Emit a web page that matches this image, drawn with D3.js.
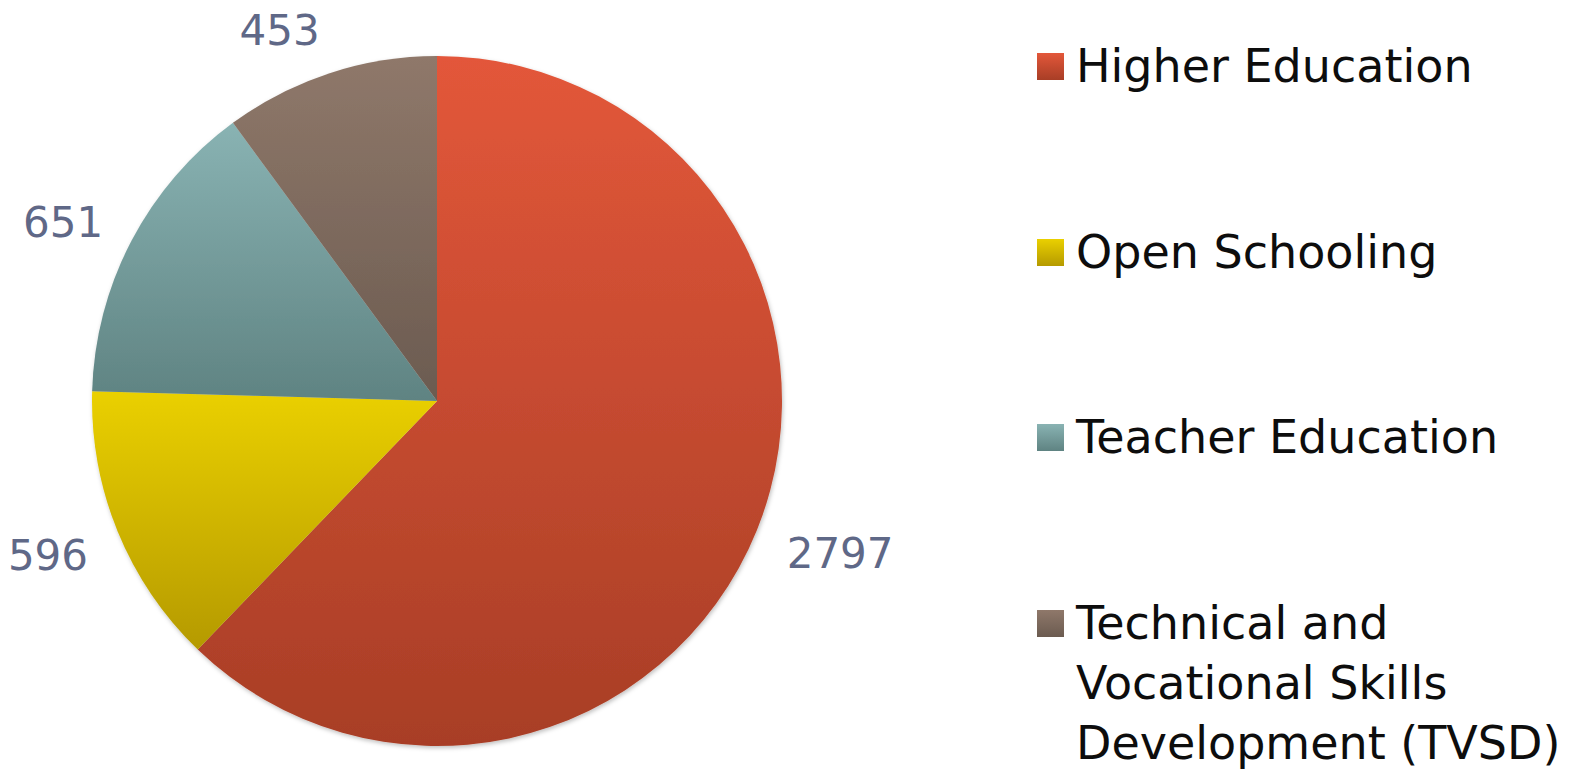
<!DOCTYPE html>
<html lang="en">
<head>
<meta charset="UTF-8">
<title>pie chart</title>
<script src="https://cdn.jsdelivr.net/npm/d3@7"></script>
<style>
  body { margin: 0; background: #fff; }
  text { font-family: "Century Gothic", "URW Gothic", "DejaVu Sans", sans-serif; }
</style>
</head>
<body>
<script>
    // size of the page
    var w = 1571;
    var h = 769;

    // data
    var categories = ["Higher Education", "Open Schooling", "Teacher Education",
                      "Technical and Vocational Skills Development (TVSD)"];
    var values = [2797, 596, 651, 453];
    var legendLines = [["Higher Education"], ["Open Schooling"], ["Teacher Education"],
                       ["Technical and", "Vocational Skills", "Development (TVSD)"]];

    // top / bottom colours of each slice gradient
    var topColors = ["#e3573a", "#ead000", "#89b3b3", "#8f786a"];
    var bottomColors = ["#a83e26", "#b59a00", "#5f8382", "#6b5b50"];

    var cx = 437, cy = 401;
    var radius = 345;

    var svg = d3.select("body").append("svg")
        .attr("width", w)
        .attr("height", h);

    var defs = svg.append("defs");

    // vertical gradients, one per slice
    values.forEach(function(v, i) {
        var g = defs.append("linearGradient")
            .attr("id", "grad" + i)
            .attr("x1", 0).attr("y1", 0)
            .attr("x2", 0).attr("y2", 1);
        g.append("stop").attr("offset", "0%").attr("stop-color", topColors[i]);
        g.append("stop").attr("offset", "100%").attr("stop-color", bottomColors[i]);
    });

    var shadow = defs.append("filter").attr("id", "shadow")
        .attr("x", "-10%").attr("y", "-10%").attr("width", "120%").attr("height", "120%");
    shadow.append("feDropShadow")
        .attr("dx", 1).attr("dy", 2).attr("stdDeviation", 2)
        .attr("flood-color", "#000").attr("flood-opacity", 0.25);

    var pie = d3.pie().sort(null).value(function(d) { return d; });
    var arcs = pie(values);

    var arc = d3.arc().innerRadius(0).outerRadius(radius);

    var g = svg.append("g")
        .attr("transform", "translate(" + cx + "," + cy + ")");

    g.append("g").attr("filter", "url(#shadow)")
        .selectAll("path")
        .data(arcs)
        .enter()
        .append("path")
        .attr("d", arc)
        .attr("fill", function(d, i) { return "url(#grad" + i + ")"; });

    // labels, outside end
    var labelR = 377;
    function mid(d) { return (d.startAngle + d.endAngle) / 2; }
    g.selectAll("text.val")
        .data(arcs)
        .enter()
        .append("text")
        .attr("class", "val")
        .text(function(d) { return d.value; })
        .attr("x", function(d) { return labelR * Math.sin(mid(d)); })
        .attr("y", function(d) {
            var a = mid(d);
            return -(labelR + 18) * Math.cos(a) + 5;
        })
        .attr("text-anchor", function(d) { return Math.sin(mid(d)) > 0 ? "start" : "end"; })
        .attr("dominant-baseline", "central")
        .attr("font-size", "42px")
        .attr("fill", "#5f6887");

    // legend
    var rowY = [66, 252, 437, 623];
    var legend = svg.selectAll("g.legend")
        .data(categories)
        .enter()
        .append("g")
        .attr("class", "legend")
        .attr("transform", function(d, i) { return "translate(1037," + rowY[i] + ")"; });

    legend.append("rect")
        .attr("x", 0).attr("y", -13)
        .attr("width", 27).attr("height", 27)
        .attr("fill", function(d, i) { return "url(#grad" + i + ")"; });

    legend.append("text")
        .attr("x", 39)
        .attr("y", 0)
        .attr("font-size", "46px")
        .attr("fill", "#0d0d0d")
        .selectAll("tspan")
        .data(function(d, i) { return legendLines[i]; })
        .enter()
        .append("tspan")
        .attr("x", 39)
        .attr("dy", function(d, j) { return j == 0 ? "0.35em" : "60px"; })
        .text(function(d) { return d; });
</script>
</body>
</html>
